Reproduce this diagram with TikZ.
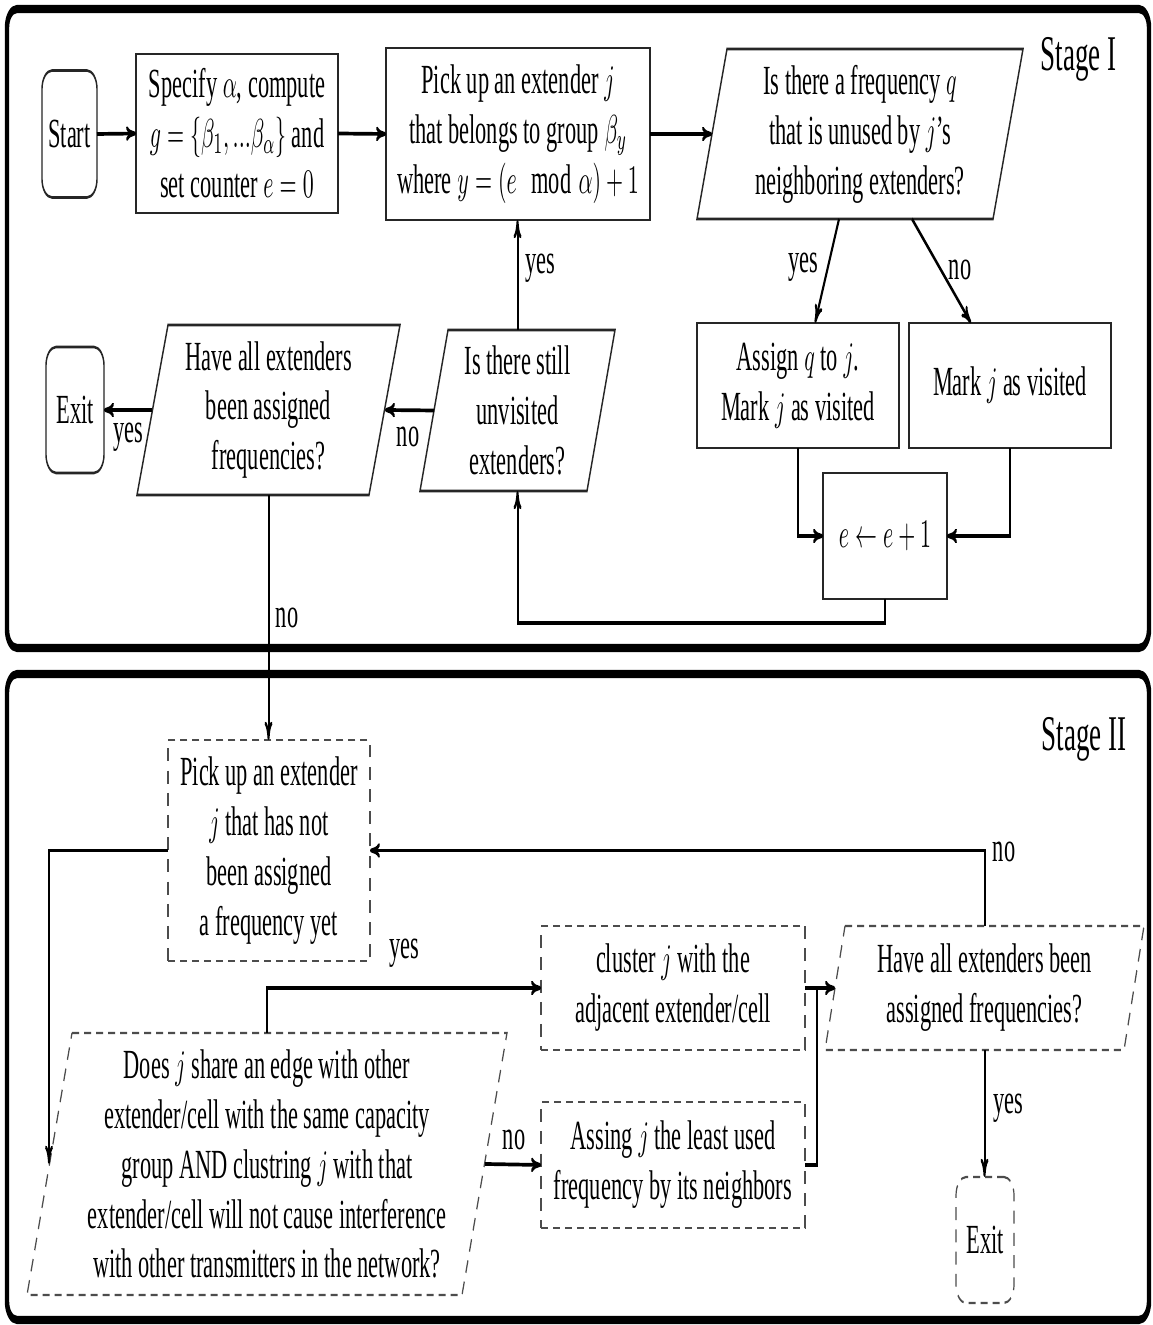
\documentclass[tikz,border=0pt]{standalone}
\usepackage{amsmath}
\usepackage{fontspec}
\setmainfont{Liberation Serif}
\usetikzlibrary{arrows.meta,calc}
\tikzset{
  txt/.style={font=\fontsize{11.2pt}{13.5pt}\selectfont, align=center, inner sep=0pt, outer sep=0pt},
  sz/.style 2 args={minimum width=#1*0.5pt, minimum height=#2*0.27027pt},
  bd/.style={draw=black!85, line width=0.7pt},
  dsh/.style={draw=black!70, line width=0.6pt, dash pattern=on 3.5pt off 2.5pt},
  procbox/.style={txt, bd},
  dproc/.style={txt, bd, dsh},
  termbox/.style={txt, bd, rounded corners=5pt},
  dterm/.style={termbox, dsh},
  link/.style={line width=1pt, -{To[length=5pt,width=4pt]}},
  plainlink/.style={line width=1pt},
  lbl/.style={font=\fontsize{11.2pt}{13.5pt}\selectfont, inner sep=0pt},
  stagelbl/.style={font=\fontsize{13.5pt}{16pt}\selectfont, inner sep=0pt, anchor=base east},
  stageframe/.style={line width=2.2pt, rounded corners=5pt}
}
\newcommand\drawpara[3][]{\draw[bd,#1] ($(#2.north west)+(#3,0)$) -- (#2.north east) -- ($(#2.south east)+(-#3,0)$) -- (#2.south west) -- cycle;}
\begin{document}
\begin{tikzpicture}[x=0.5pt,y=-0.5pt]
\useasboundingbox[fill=white] (0,0) rectangle (1152,1325);
\begin{scope}[transform canvas={yscale=1.85}, x=0.5pt, y=-0.27027pt]
% frames
\draw[stageframe] (7,9) rectangle (1149,648);
\draw[stageframe] (7,674) rectangle (1149,1320);
\node[stagelbl] (st1) at (1117,71) {Stage I};
\node[stagelbl] (st2) at (1127,751) {Stage II};

% Stage I nodes
\node[termbox, sz={55}{127}] (start) at (69.5,134) {Start};
\node[procbox, sz={202}{159}] (spec) at (237,133.5) {Specify $\alpha$, compute\\ $g=\{\beta_1,...\beta_\alpha\}$ and\\ set counter $e=0$};
\node[procbox, sz={264}{172}] (pick) at (518,134) {Pick up an extender $j$\\ that belongs to group $\beta_y$\\ where $y=(e \mod \alpha)+1$};
\node[txt, sz={326}{170}] (isq) at (860,134) {Is there a frequency $q$\\ that is unused by $j$’s\\ neighboring extenders?};
\drawpara{isq}{30}
\node[procbox, sz={202}{125}] (assign) at (798,385.5) {Assign $q$ to $j$.\\ Mark $j$ as visited};
\node[procbox, sz={202}{125}] (mark) at (1010,385.5) {Mark $j$ as visited};
\node[procbox, sz={124}{126}] (ee) at (885,536) {$e\leftarrow e+1$};
\node[txt, sz={195}{161}] (istill) at (517.5,410.5) {Is there still\\ unvisited\\ extenders?};
\drawpara{istill}{28}
\node[txt, sz={263}{170}] (haveall) at (268.5,410) {Have all extenders\\ been assigned\\ frequencies?};
\drawpara{haveall}{31}
\node[termbox, sz={58}{126}] (exit1) at (75,410) {Exit};

% Stage I connectors
\draw[link] (start.east) -- (spec.west);
\draw[link] (spec.east) -- (pick.west);
\draw[link] (pick.east) -- ($(isq.west)+(15,0)$);
\draw[link] ($(isq.south)+(-21,0)$) -- ($(assign.north)+(17,0)$);
\draw[link] ($(isq.south)+(52,0)$) -- ($(mark.north)+(-39,0)$);
\draw[link] (assign.south) |- (ee.west);
\draw[link] (mark.south) |- (ee.east);
\draw[link] (ee.south) -- ++(0,24) -| (istill.south);
\draw[link] (istill.north) -- (istill.north |- pick.south);
\draw[link] ($(istill.west)+(14,0)$) -- ($(haveall.east)+(-15,0)$);
\draw[link] ($(haveall.west)+(15,0)$) -- (exit1.east);

\node[lbl] (l1) at (803,267) {yes};
\node[lbl] (l2) at (960,270) {no};
\node[lbl] (l3) at (540,268) {yes};
\node[lbl] (l4) at (408,437) {no};
\node[lbl] (l5) at (128,437) {yes};
\node[lbl] (l6) at (287,618) {no};

% Stage II nodes
\node[dproc, sz={202}{221}] (pick2) at (269,850.5) {Pick up an extender\\ $j$ that has not\\ been assigned\\ a frequency yet};
\node[txt, sz={480}{262}] (does) at (267,1164) {Does $j$ share an edge with other\\ extender/cell with the same capacity\\ group AND clustring $j$ with that\\ extender/cell will not cause interference\\ with other transmitters in the network?};
\drawpara[dsh]{does}{45}
\node[dproc, sz={264}{124}] (cluster) at (673,988) {cluster $j$ with the\\ adjacent extender/cell};
\node[dproc, sz={264}{126}] (assing) at (673,1165) {Assing $j$ the least used\\ frequency by its neighbors};
\node[txt, sz={319}{124}] (haveall2) at (984.5,988) {Have all extenders been\\ assigned frequencies?};
\drawpara[dsh]{haveall2}{20}
\node[dterm, sz={58}{126}] (exit2) at (985,1240) {Exit};

% Stage II connectors
\draw[link] (haveall.south) -- (haveall.south |- pick2.north);
\draw[link] (pick2.west) -| ($(does.west)+(22,0)$);
\draw[link] (does.north) |- (cluster.west);
\draw[link] ($(does.east)+(-22,0)$) -- (assing.west);
\draw[link] (cluster.east) -- ($(haveall2.west)+(10,0)$);
\draw[plainlink] (assing.east) -| ($(cluster.east)+(12,0)$);
\draw[link] (haveall2.north) |- (pick2.east);
\draw[link] (haveall2.south) -- (haveall2.south |- exit2.north);

\node[lbl] (l7) at (404,953) {yes};
\node[lbl] (l8) at (514,1140) {no};
\node[lbl] (l9) at (1004,852) {no};
\node[lbl] (l10) at (1008,1108) {yes};
\end{scope}
\end{tikzpicture}
\end{document}
